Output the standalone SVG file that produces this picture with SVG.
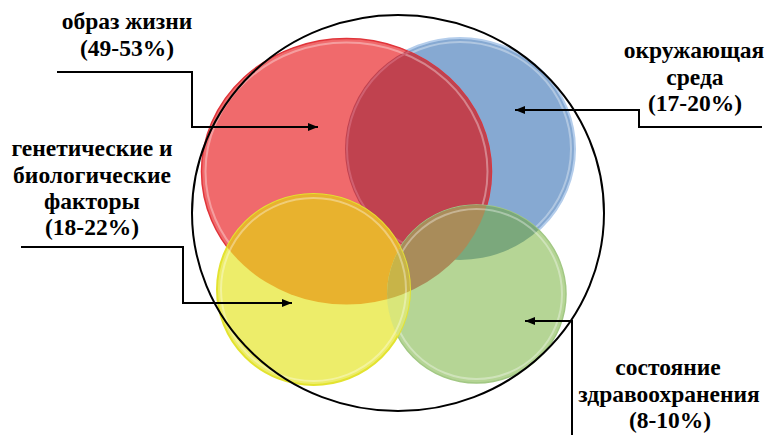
<svg xmlns="http://www.w3.org/2000/svg" width="767" height="435" viewBox="0 0 767 435">
<style>
.lbl{font-family:'Liberation Serif','Times New Roman',serif;font-weight:700;font-size:23.5px;fill:#000;text-anchor:middle}
.con{fill:none;stroke:#000;stroke-width:2}
.hl{fill:none;stroke:#fff;stroke-opacity:0.35;stroke-width:2}
</style>
<defs>
<ellipse id="eR" cx="346.5" cy="171.5" rx="145" ry="133"/>
<ellipse id="eB" cx="460" cy="149" rx="115" ry="111"/>
<ellipse id="eY" cx="313.5" cy="289.5" rx="96.5" ry="95.5"/>
<ellipse id="eG" cx="476.5" cy="294" rx="89.5" ry="89"/>
<clipPath id="cR"><use href="#eR"/></clipPath>
<clipPath id="cY"><use href="#eY"/></clipPath>
<clipPath id="cG"><use href="#eG"/></clipPath>
<marker id="ah" viewBox="0 0 10 8" refX="10" refY="4" markerWidth="10" markerHeight="8" markerUnits="userSpaceOnUse" orient="auto">
<path d="M0,0 L10,4 L0,8 Z" fill="#000"/>
</marker>
</defs>

<g id="environment">
<use href="#eB" fill="#86A9D2" stroke="#B4CDEB" stroke-width="2"/>
<ellipse cx="460" cy="149" rx="111" ry="107" class="hl"/>
</g>
<g id="lifestyle">
<use href="#eR" fill="#F06A6C" stroke="#E0343A" stroke-width="1.5"/>
<use href="#eB" clip-path="url(#cR)" fill="#C0424F"/>
<ellipse cx="346.5" cy="171.5" rx="141" ry="129" class="hl"/>
<ellipse cx="460" cy="149" rx="113" ry="109" fill="none" stroke="#D06070" stroke-width="2" clip-path="url(#cR)"/>
</g>
<g id="healthcare">
<use href="#eG" fill="#B5D595" stroke="#A2C884" stroke-width="1.5"/>
<use href="#eB" clip-path="url(#cG)" fill="#7BA87C"/>
<g clip-path="url(#cG)"><use href="#eR" fill="#A98C5A"/></g>
<ellipse cx="476.5" cy="294" rx="85.5" ry="85" class="hl"/>
</g>
<g id="genetics">
<use href="#eY" fill="#EDED6A" stroke="#E3E330" stroke-width="2"/>
<use href="#eR" clip-path="url(#cY)" fill="#E8B22E"/>
<g clip-path="url(#cY)"><use href="#eG" fill="#D9E67A"/></g>
<g clip-path="url(#cY)"><g clip-path="url(#cG)"><use href="#eR" fill="#C8B448"/></g></g>
<ellipse cx="313.5" cy="289.5" rx="92.5" ry="91.5" class="hl"/>
</g>
<g id="outer">
<ellipse cx="398" cy="213" rx="206" ry="198" fill="none" stroke="#000" stroke-width="2"/>
</g>

<g id="connectors">
<polyline class="con" points="57,72 192,72 192,127 318,127" marker-end="url(#ah)"/>
<polyline class="con" points="762,127 639,127 639,110 515,110" marker-end="url(#ah)"/>
<polyline class="con" points="21,247 183,247 183,303 292,303" marker-end="url(#ah)"/>
<polyline class="con" points="572,435 572,321 525,321" marker-end="url(#ah)"/>
</g>

<g id="labels">
<text class="lbl" x="127" y="29">образ жизни</text>
<text class="lbl" x="127" y="56">(49-53%)</text>
<text class="lbl" x="694" y="58">окружающая</text>
<text class="lbl" x="695" y="85">среда</text>
<text class="lbl" x="695" y="111">(17-20%)</text>
<text class="lbl" x="92" y="156">генетические и</text>
<text class="lbl" x="92" y="183">биологические</text>
<text class="lbl" x="92" y="209">факторы</text>
<text class="lbl" x="92" y="235">(18-22%)</text>
<text class="lbl" x="668" y="375">состояние</text>
<text class="lbl" x="669" y="402">здравоохранения</text>
<text class="lbl" x="670" y="428">(8-10%)</text>
</g>
</svg>
